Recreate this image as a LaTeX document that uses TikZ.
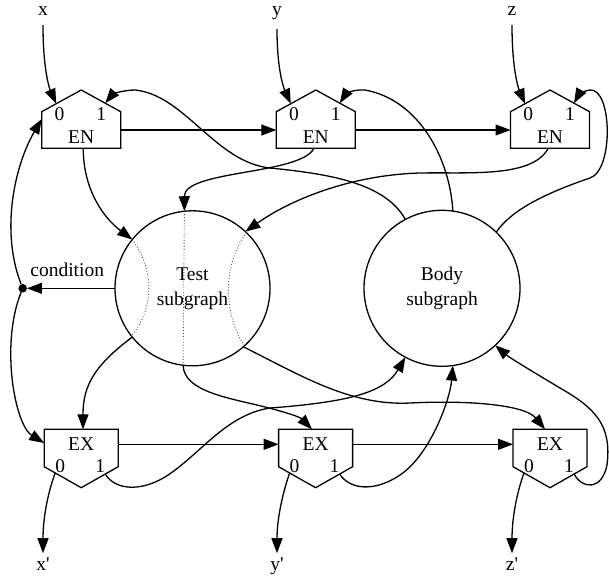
\documentclass[tikz,border=0pt]{standalone}
\usepackage{fontspec}
\setmainfont{Liberation Serif}
\usetikzlibrary{arrows.meta}

% entry gate: house shape with ports 0 and 1 on the roof
\newcommand\drawentry[2]{% #1 name, #2 centre x
  \draw[gate] (#2-39.5,111.7) -- (#2,90) -- (#2+39.5,111.7) -- (#2+39.5,148.3) -- (#2-39.5,148.3) -- cycle;
  \node[lbl] (#1-zero) at (#2-21.8,120) {0};
  \node[lbl] (#1-one) at (#2+20,120) {1};
  \node[lbl] (#1-name) at (#2,143.3) {EN};
  \coordinate (#1-p0) at (#2-25,103.7);
  \coordinate (#1-p1) at (#2+24,103.2);
  \coordinate (#1-w) at (#2-39.5,130);
  \coordinate (#1-e) at (#2+39.5,130);
}
% exit gate: inverted house shape with ports 0 and 1 underneath
\newcommand\drawexit[2]{% #1 name, #2 centre x
  \draw[gate] (#2-37,429.3) -- (#2+37,429.3) -- (#2+37,466.7) -- (#2,487.7) -- (#2-37,466.7) -- cycle;
  \node[lbl] (#1-name) at (#2,450) {EX};
  \node[lbl] (#1-zero) at (#2-21,472.7) {0};
  \node[lbl] (#1-one) at (#2+19,472.7) {1};
  \coordinate (#1-p0) at (#2-26,473);
  \coordinate (#1-p1) at (#2+24,474);
  \coordinate (#1-w) at (#2-37,444.3);
  \coordinate (#1-e) at (#2+37,444.3);
}

\begin{document}
\begin{tikzpicture}[x=1pt,y=-1pt,
  edge/.style={line width=1.3pt, -{Triangle[length=15pt,width=11pt]}},
  gate/.style={line width=1.3pt, line join=miter},
  lbl/.style={font=\fontsize{19.5}{25}\selectfont, inner sep=0pt, anchor=base},
  sub/.style={circle, draw, line width=1.3pt, inner sep=0pt, outer sep=0pt,
    minimum size=155pt, align=center, font=\fontsize{19.5}{25}\selectfont},
  pass/.style={dotted, line width=0.9pt, black!70}
]
\useasboundingbox (0,0) rectangle (609,576);

% gates
\drawentry{en1}{81.2}
\drawentry{en2}{315.8}
\drawentry{en3}{550}
\drawexit{ex1}{81.2}
\drawexit{ex2}{315.6}
\drawexit{ex3}{550}

% subgraphs
\node[sub] (test) at (192.5,288.3) {Test\\subgraph};
\node[sub, minimum size=156pt] (body) at (442,288.3) {Body\\subgraph};

% pass-through lines inside the test subgraph
\draw[pass] (test.141.3) .. controls (154.5,270) and (154.5,308) .. (test.218.5);
\draw[pass] (test.96.2) -- (test.263.9);
\draw[pass] (test.46.8) .. controls (222.7,265) and (222.7,312) .. (test.312.8);

% loop variables in and out
\node[lbl, outer ysep=10pt] (vx) at (43,15) {x};
\node[lbl, outer ysep=10pt] (vy) at (277,15) {y};
\node[lbl, outer ysep=10pt] (vz) at (512,15) {z};
\node[lbl, outer ysep=4pt] (vxp) at (43,570) {x\textquotesingle};
\node[lbl, outer ysep=4pt] (vyp) at (277,570) {y\textquotesingle};
\node[lbl, outer ysep=4pt] (vzp) at (512,570) {z\textquotesingle};

\draw[edge] (vx.south) .. controls (43,75) and (51,92) .. (en1-p0);
\draw[edge] (vy.south) .. controls (277,75) and (285.5,92) .. (en2-p0);
\draw[edge] (vz.south) .. controls (512,75) and (520,92) .. (en3-p0);

\draw[edge] (ex1-p0) .. controls (47,495) and (43,520) .. (vxp.north);
\draw[edge] (ex2-p0) .. controls (282,495) and (277,520) .. (vyp.north);
\draw[edge] (ex3-p0) .. controls (516,495) and (512,520) .. (vzp.north);

% control chains
\draw[edge] (en1-e) -- (en2-w);
\draw[edge] (en2-e) -- (en3-w);
\draw[edge] (ex1-e) -- (ex2-w);
\draw[edge] (ex2-e) -- (ex3-w);

% condition
\node[circle, fill, inner sep=0pt, outer sep=0pt, minimum size=8.5pt] (dot) at (22.7,288.3) {};
\node[lbl] (cond) at (67.2,276.7) {condition};
\draw[edge] (test.180) -- (dot);
\coordinate (en1-cw) at (41.7,119);
\coordinate (ex1-cw) at (44.2,443);
\draw[edge] (dot) .. controls (0,230) and (15,165) .. (en1-cw);
\draw[edge] (dot) .. controls (0,345) and (15,425) .. (ex1-cw);

% entry gates into the test subgraph
\coordinate (en1-s) at (83.3,148.3);
\coordinate (en2-s) at (314,148.3);
\coordinate (en3-s) at (548.3,148.3);
\draw[edge] (en1-s) .. controls (83,185) and (100,215) .. (test.141.3);
\draw[edge] (en2-s) .. controls (300,175) and (184,170) .. (test.96.2);
\draw[edge] (en3-s) .. controls (532,178) and (470,172) .. (420,173)
  .. controls (350,175) and (290,200) .. (test.47.1);

% body results back to the entry gates
\draw[edge] (body.118.9) .. controls (385,183) and (330,174) .. (270,168)
  .. controls (215,162) and (185,95) .. (135,90)
  .. controls (122,90) and (112,95) .. (en1-p1);
\draw[edge] (body.82.6) .. controls (450,160) and (420,100) .. (365,90)
  .. controls (352,89) and (345,95) .. (en2-p1);
\draw[edge] (body.46) .. controls (510,212) and (540,195) .. (590,178)
  .. controls (614,170) and (612,88) .. (590,90)
  .. controls (582,91) and (578,96) .. (en3-p1);

% test subgraph into the exit gates
\coordinate (ex1-n) at (83,429.3);
\coordinate (ex2-n) at (312,429.3);
\coordinate (ex3-n) at (545,429.3);
\draw[edge] (test.219.5) .. controls (95,365) and (83,385) .. (ex1-n);
\draw[edge] (test.263.9) .. controls (184,392) and (230,398) .. (265,407)
  .. controls (285,412) and (300,417) .. (ex2-n);
\draw[edge] (test.311.3) .. controls (300,375) and (350,406) .. (410,403)
  .. controls (470,400) and (525,405) .. (ex3-n);

% exit gates feeding the body subgraph
\draw[edge] (ex1-p1) .. controls (115,490) and (140,492) .. (165,477)
  .. controls (200,455) and (225,415) .. (270,408)
  .. controls (350,402) and (385,392) .. (body.242.7);
\draw[edge] (ex2-p1) .. controls (350,490) and (375,492) .. (400,475)
  .. controls (430,455) and (450,400) .. (body.278.7);
\draw[edge] (ex3-p1) .. controls (583,490) and (602,490) .. (607,465)
  .. controls (612,425) and (595,408) .. (560,388)
  .. controls (530,370) and (510,358) .. (body.313.1);

\end{tikzpicture}
\end{document}
